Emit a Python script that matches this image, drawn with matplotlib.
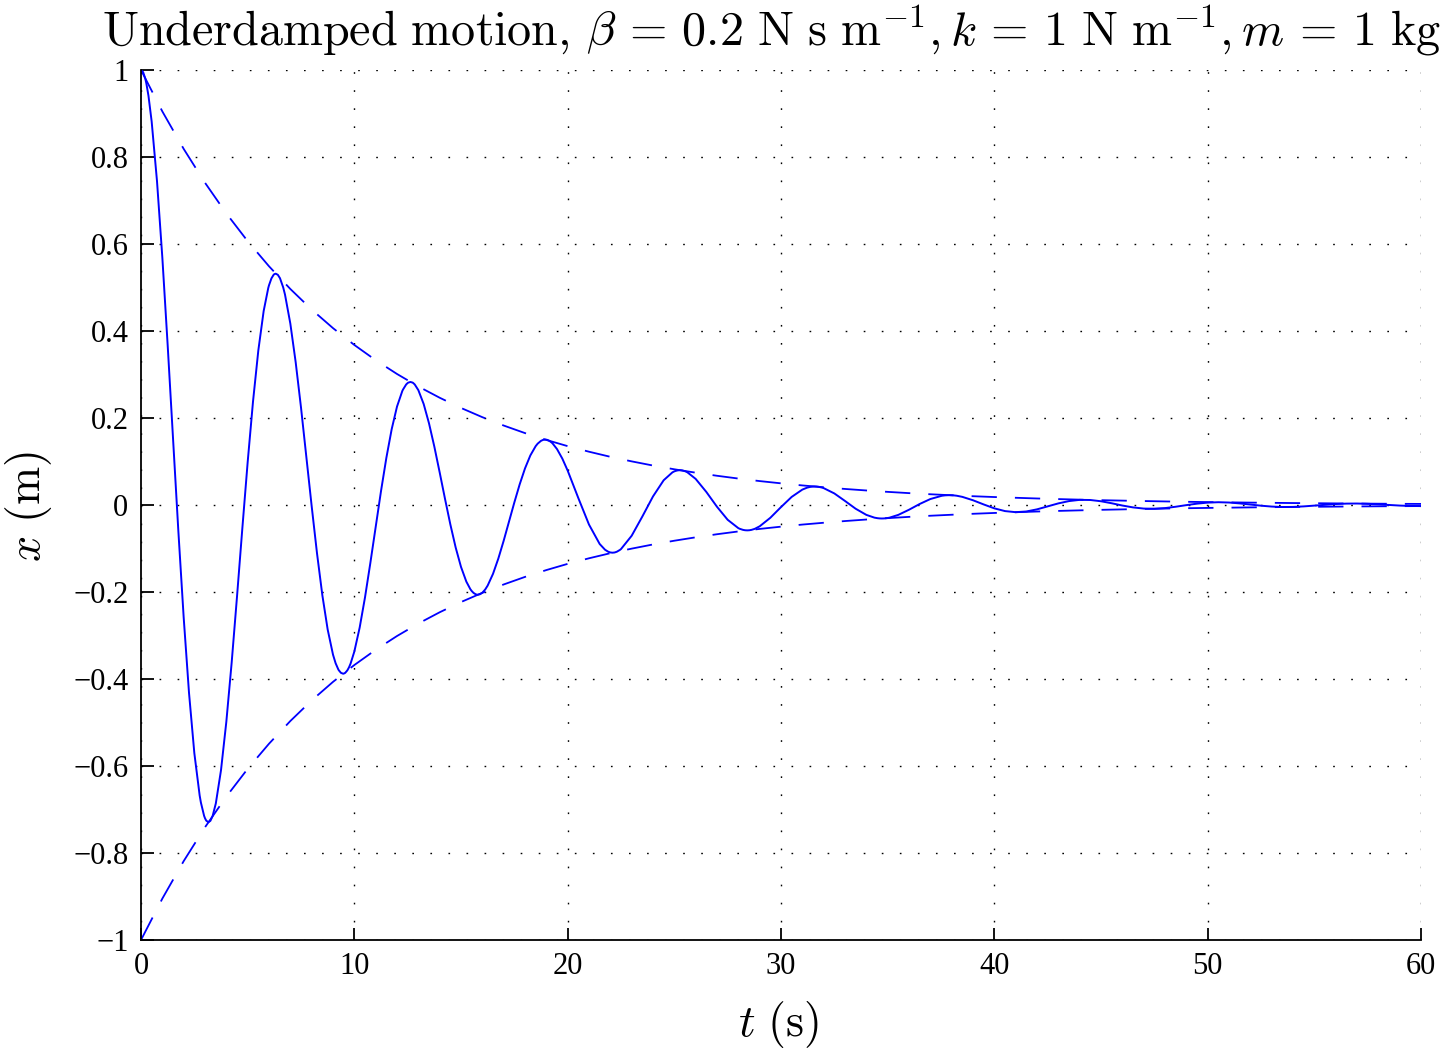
"""Underdamped oscillator: displacement and exponential envelope."""

import matplotlib
matplotlib.use("Agg")
import matplotlib.pyplot as plt
import numpy as np

# displacement, t in s, x in m
t_early = [
    0.0, 0.25, 0.5, 0.75, 1.0, 1.25, 1.5, 1.75, 2.0, 2.25, 2.5, 2.75,
    3.0, 3.25, 3.5, 3.75, 4.0, 4.25, 4.5, 4.75, 5.0, 5.25, 5.5, 5.75,
    6.0, 6.25, 6.5, 6.75, 7.0, 7.25, 7.5, 7.75, 8.0, 8.25, 8.5, 8.75,
    9.0, 9.25, 9.5, 9.75, 10.0, 10.25, 10.5, 10.75, 11.0, 11.25, 11.5, 11.75,
    12.0, 12.25, 12.5, 12.75, 13.0, 13.25, 13.5, 13.75, 14.0, 14.25, 14.5, 14.75,
    15.0, 15.25, 15.5, 15.75, 16.0, 16.25, 16.5, 16.75, 17.0, 17.25, 17.5, 17.75,
    18.0, 18.25, 18.5, 18.75, 19.0, 19.25, 19.5, 19.75, 20.0,
]
x_early = [
    1.0000, 0.9694, 0.8815, 0.7445, 0.5690, 0.3675, 0.1536, -0.0592,
    -0.2581, -0.4316, -0.5704, -0.6679, -0.7201, -0.7262, -0.6878, -0.6097,
    -0.4983, -0.3622, -0.2108, -0.0539, 0.0986, 0.2376, 0.3555, 0.4460,
    0.5051, 0.5307, 0.5228, 0.4837, 0.4170, 0.3284, 0.2242, 0.1114,
    -0.0026, -0.1109, -0.2072, -0.2862, -0.3440, -0.3781, -0.3877, -0.3732,
    -0.3369, -0.2818, -0.2124, -0.1335, -0.0503, 0.0319, 0.1081, 0.1741,
    0.2262, 0.2622, 0.2804, 0.2808, 0.2641, 0.2322, 0.1878, 0.1342,
    0.0750, 0.0142, -0.0445, -0.0977, -0.1423, -0.1761, -0.1976, -0.2061,
    -0.2017, -0.1852, -0.1583, -0.1231, -0.0822, -0.0383, 0.0058, 0.0474,
    0.0841, 0.1139, 0.1353, 0.1475, 0.1502, 0.1436, 0.1286, 0.1066,
    0.0791,
]
t_late = [
    20.5, 21.0, 21.5, 22.0, 22.5, 23.0, 23.5, 24.0, 24.5, 25.0,
    25.5, 26.0, 26.5, 27.0, 27.5, 28.0, 28.5, 29.0, 29.5, 30.0,
    30.5, 31.0, 31.5, 32.0, 32.5, 33.0, 33.5, 34.0, 34.5, 35.0,
    35.5, 36.0, 36.5, 37.0, 37.5, 38.0, 38.5, 39.0, 39.5, 40.0,
    40.5, 41.0, 41.5, 42.0, 42.5, 43.0, 43.5, 44.0, 44.5, 45.0,
    45.5, 46.0, 46.5, 47.0, 47.5, 48.0, 48.5, 49.0, 49.5, 50.0,
    50.5, 51.0, 51.5, 52.0, 52.5, 53.0, 53.5, 54.0, 54.5, 55.0,
    55.5, 56.0, 56.5, 57.0, 57.5, 58.0, 58.5, 59.0, 59.5, 60.0,
]
x_late = [
    0.0159, -0.0450, -0.0896, -0.1091, -0.1013, -0.0707, -0.0265, 0.0197, 0.0569, 0.0773,
    0.0777, 0.0600, 0.0300, -0.0041, -0.0340, -0.0532, -0.0581, -0.0490, -0.0294, -0.0048,
    0.0186, 0.0354, 0.0424, 0.0388, 0.0266, 0.0093, -0.0086, -0.0227, -0.0302, -0.0299,
    -0.0227, -0.0109, 0.0023, 0.0137, 0.0209, 0.0225, 0.0187, 0.0109, 0.0013, -0.0077,
    -0.0140, -0.0165, -0.0149, -0.0100, -0.0032, 0.0037, 0.0090, 0.0118, 0.0115, 0.0086,
    0.0040, -0.0012, -0.0055, -0.0082, -0.0087, -0.0071, -0.0040, -0.0003, 0.0031, 0.0055,
    0.0064, 0.0057, 0.0037, 0.0011, -0.0016, -0.0036, -0.0046, -0.0044, -0.0032, -0.0014,
    0.0006, 0.0022, 0.0032, 0.0034, 0.0027, 0.0015, 0.0000, -0.0013, -0.0022, -0.0025,
]

# extra readings close to each crest and trough, where the curve bends sharply
t_crest = [
    0.1, 0.2, 0.35,
    2.8074, 2.9574, 3.0574, 3.1574, 3.2574, 3.3574, 3.5074,
    5.9649, 6.1149, 6.2149, 6.3149, 6.4149, 6.5149, 6.6649,
    9.1223, 9.2723, 9.3723, 9.4723, 9.5723, 9.6723, 9.8223,
    12.2797, 12.4297, 12.5297, 12.6297, 12.7297, 12.8297, 12.9797,
    15.4372, 15.5872, 15.6872, 15.7872, 15.8872, 15.9872, 16.1372,
    18.5946, 18.7446, 18.8446, 18.9446, 19.0446, 19.1446, 19.2946,
    21.7520, 21.9020, 22.0020, 22.1020, 22.2020, 22.3020, 22.4520,
    24.9095, 25.0595, 25.1595, 25.2595, 25.3595, 25.4595, 25.6095,
    28.0669, 28.2169, 28.3169, 28.4169, 28.5169, 28.6169, 28.7669,
    31.2243, 31.3743, 31.4743, 31.5743, 31.6743, 31.7743, 31.9243,
    34.3818, 34.5318, 34.6318, 34.7318, 34.8318, 34.9318, 35.0818,
    37.5392, 37.6892, 37.7892, 37.8892, 37.9892, 38.0892, 38.2392,
]
x_crest = [
    0.99504, 0.98033, 0.94078,
    -0.68396, -0.71450, -0.72555, -0.72923, -0.72561, -0.71488, -0.68605,
    0.49877, 0.52105, 0.52911, 0.53179, 0.52915, 0.52133, 0.50030,
    -0.36372, -0.37996, -0.38583, -0.38779, -0.38587, -0.38016, -0.36482,
    0.26524, 0.27709, 0.28137, 0.28280, 0.28140, 0.27724, 0.26605,
    -0.19343, -0.20207, -0.20519, -0.20623, -0.20521, -0.20217, -0.19402,
    0.14105, 0.14735, 0.14963, 0.15039, 0.14964, 0.14743, 0.14148,
    -0.10286, -0.10746, -0.10912, -0.10967, -0.10913, -0.10751, -0.10318,
    0.07501, 0.07836, 0.07958, 0.07998, 0.07958, 0.07841, 0.07524,
    -0.05470, -0.05714, -0.05803, -0.05832, -0.05803, -0.05717, -0.05487,
    0.03989, 0.04167, 0.04232, 0.04253, 0.04232, 0.04169, 0.04001,
    -0.02909, -0.03038, -0.03085, -0.03101, -0.03086, -0.03040, -0.02917,
    0.02122, 0.02216, 0.02251, 0.02262, 0.02251, 0.02218, 0.02128,
]

# upper envelope (dashed), one value per second
t_env = list(range(0, 61))
env_upper = [
    1.0000, 0.9048, 0.8187, 0.7408, 0.6703, 0.6065, 0.5488, 0.4966, 0.4493, 0.4066,
    0.3679, 0.3329, 0.3012, 0.2725, 0.2466, 0.2231, 0.2019, 0.1827, 0.1653, 0.1496,
    0.1353, 0.1225, 0.1108, 0.1003, 0.0907, 0.0821, 0.0743, 0.0672, 0.0608, 0.0550,
    0.0498, 0.0450, 0.0408, 0.0369, 0.0334, 0.0302, 0.0273, 0.0247, 0.0224, 0.0202,
    0.0183, 0.0166, 0.0150, 0.0136, 0.0123, 0.0111, 0.0101, 0.0091, 0.0082, 0.0074,
    0.0067, 0.0061, 0.0055, 0.0050, 0.0045, 0.0041, 0.0037, 0.0033, 0.0030, 0.0027,
    0.0025,
]

x_ticks = [0, 10, 20, 30, 40, 50, 60]
y_ticks = [-1, -0.8, -0.6, -0.4, -0.2, 0, 0.2, 0.4, 0.6, 0.8, 1]
y_ticklabels = ["\u22121", "\u22120.8", "\u22120.6", "\u22120.4", "\u22120.2", "0",
                "0.2", "0.4", "0.6", "0.8", "1"]

plt.rcParams["mathtext.fontset"] = "cm"
plt.rcParams["font.family"] = ["Liberation Serif", "DejaVu Serif"]

W, H = 1446, 1050
fig = plt.figure(figsize=(W / 100, H / 100), dpi=100)
ax = fig.add_axes([141 / W, 110 / H, 1280 / W, 870 / H])

blue = (0, 0, 1)
t_all = np.concatenate([t_early, t_late, t_crest])
x_all = np.concatenate([x_early, x_late, x_crest])
order = np.argsort(t_all, kind="stable")
ax.plot(t_all[order], x_all[order], color=blue, lw=1.4,
        solid_joinstyle="round")
env = np.asarray(env_upper)
ax.plot(t_env, env, color=blue, lw=1.3, dashes=(14, 10))
ax.plot(t_env, -env, color=blue, lw=1.3, dashes=(14, 10))

ax.set_xlim(0, 60)
ax.set_ylim(-1, 1)
ax.set_xticks(x_ticks)
ax.set_yticks(y_ticks)
ax.set_yticklabels(y_ticklabels)
ax.grid(True, color="black", lw=1.0, linestyle=(0, (1.2, 11.8)))
ax.set_axisbelow(True)
for side in ("top", "right"):
    ax.spines[side].set_visible(False)
for side in ("left", "bottom"):
    ax.spines[side].set_linewidth(1.3)
ax.tick_params(direction="in", length=9, width=1.3, labelsize=22, pad=9)

fig.text(771 / W, 1 - 45 / H,
         r"$\mathrm{Underdamped\ motion,}\,\beta\,=\,0.2\ \mathrm{N\ s\ m}^{-1}, k\,=\,1\ \mathrm{N\ m}^{-1}, m\,=\,1\ \mathrm{kg}$",
         ha="center", va="baseline", fontsize=34.6)
fig.text(779 / W, 1 - 1036 / H, r"$t\ (\mathrm{s})$",
         ha="center", va="baseline", fontsize=33)
fig.text(54 / W, 1 - 507 / H, r"$x\ (\mathrm{m})$",
         ha="right", va="center", rotation=90, fontsize=33)

fig.savefig("out.png", dpi=100)
